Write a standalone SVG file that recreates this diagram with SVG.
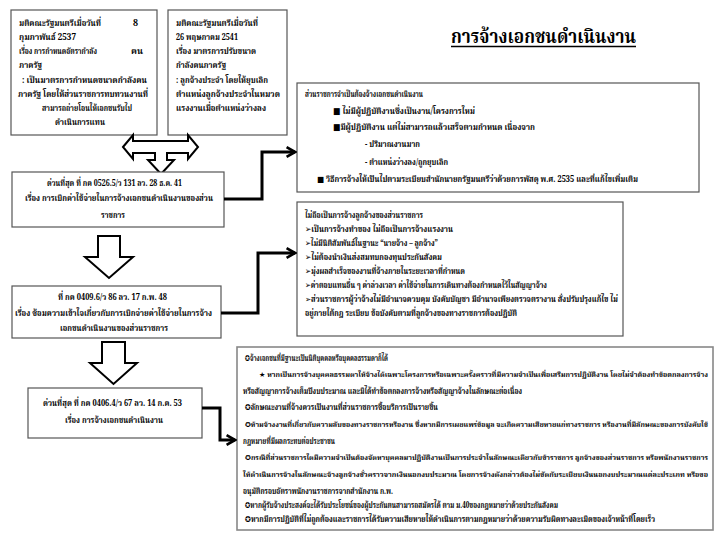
<svg xmlns="http://www.w3.org/2000/svg" width="720" height="540" viewBox="0 0 720 540">
<style>
.t{font-family:"Noto Serif Thai","Noto Sans Thai","Tlwg Typo","Loma","Garuda","DejaVu Sans",serif;font-size:9px;font-weight:bold;fill:#000}
.s{font-size:8px}
.xs{font-size:6.9px}
.box{fill:#fff;stroke:#555;stroke-width:1.2}
.box3{fill:#fff;stroke:#888;stroke-width:1.6}
.blk{fill:#fff;stroke:#000;stroke-width:2;stroke-linejoin:miter}
.con{fill:none;stroke:#000;stroke-width:3;stroke-linejoin:miter}
.title{font-family:"Noto Serif Thai","Noto Sans Thai","Tlwg Typo","Loma","Garuda","DejaVu Sans",serif;font-size:19px;font-weight:bold;fill:#000}
</style>
<defs>
<marker id="arr" viewBox="0 0 10 10" refX="8.5" refY="5" markerWidth="4" markerHeight="4" orient="auto" markerUnits="strokeWidth">
<path d="M1.5,1 L8.5,5 L1.5,9" fill="none" stroke="#000" stroke-width="2.2"/>
</marker>
</defs>
<rect width="720" height="540" fill="#fff"/>

<g id="title">
<text class="title" x="451" y="43" textLength="185" lengthAdjust="spacingAndGlyphs">การจ้างเอกชนดำเนินงาน</text>
<line x1="451" y1="46.5" x2="636" y2="46.5" stroke="#000" stroke-width="1.3"/>
</g>

<g id="boxA">
<rect class="box" x="11" y="10" width="146" height="125"/>
<text class="t" x="19" y="26" textLength="82" lengthAdjust="spacingAndGlyphs">มติคณะรัฐมนตรีเมื่อวันที่</text>
<text class="t" x="133" y="26">8</text>
<text class="t" x="19" y="40" textLength="57" lengthAdjust="spacingAndGlyphs">กุมภาพันธ์ 2537</text>
<text class="t" x="19" y="54" textLength="78" lengthAdjust="spacingAndGlyphs">เรื่อง การกำหนดอัตรากำลัง</text>
<text class="t" x="131" y="54" textLength="12" lengthAdjust="spacingAndGlyphs">คน</text>
<text class="t" x="19" y="68" textLength="23" lengthAdjust="spacingAndGlyphs">ภาครัฐ</text>
<text class="t" x="22" y="83" textLength="125" lengthAdjust="spacingAndGlyphs">: เป็นมาตรการกำหนดขนาดกำลังคน</text>
<text class="t" x="18" y="97" textLength="130" lengthAdjust="spacingAndGlyphs">ภาครัฐ โดยให้ส่วนราชการทบทวนงานที่</text>
<text class="t" x="42" y="111" textLength="90" lengthAdjust="spacingAndGlyphs">สามารถถ่ายโอนให้เอกชนรับไป</text>
<text class="t" x="55" y="125" textLength="50" lengthAdjust="spacingAndGlyphs">ดำเนินการแทน</text>
</g>

<g id="boxB">
<rect class="box" x="168" y="10" width="119" height="125"/>
<text class="t" x="176" y="26" textLength="82" lengthAdjust="spacingAndGlyphs">มติคณะรัฐมนตรีเมื่อวันที่</text>
<text class="t" x="176" y="40" textLength="62" lengthAdjust="spacingAndGlyphs">26 พฤษภาคม 2541</text>
<text class="t" x="176" y="54" textLength="80" lengthAdjust="spacingAndGlyphs">เรื่อง มาตรการปรับขนาด</text>
<text class="t" x="176" y="68" textLength="50" lengthAdjust="spacingAndGlyphs">กำลังคนภาครัฐ</text>
<text class="t" x="176" y="83" textLength="92" lengthAdjust="spacingAndGlyphs">: ลูกจ้างประจำ โดยให้ยุบเลิก</text>
<text class="t" x="176" y="97" textLength="104" lengthAdjust="spacingAndGlyphs">ตำแหน่งลูกจ้างประจำในหมวด</text>
<text class="t" x="176" y="111" textLength="90" lengthAdjust="spacingAndGlyphs">แรงงานเมื่อตำแหน่งว่างลง</text>
</g>

<g id="split-arrow">
<polygon class="blk" points="123,147 133,135 133,141 188,141 188,135 198,147 188,159 188,153 167,153 167,160 174,160 161,174 148,160 155,160 155,153 133,153 133,159"/>
</g>

<g id="boxC">
<rect class="box" x="12" y="172" width="212" height="55"/>
<text class="t" x="47" y="186" textLength="135" lengthAdjust="spacingAndGlyphs">ด่วนที่สุด ที่ กค 0526.5/ว 131 ลว. 28 ธ.ค. 41</text>
<text class="t" x="25" y="201" textLength="188" lengthAdjust="spacingAndGlyphs">เรื่อง  การเบิกค่าใช้จ่ายในการจ้างเอกชนดำเนินงานของส่วน</text>
<text class="t" x="101" y="218" textLength="24" lengthAdjust="spacingAndGlyphs">ราชการ</text>
</g>

<g id="down-arrow-1">
<polygon class="blk" points="98,236 120,236 120,257 133,257 109,278 85,257 98,257"/>
</g>

<g id="boxD">
<rect class="box" x="12" y="286" width="209" height="52"/>
<text class="t" x="58" y="300" textLength="109" lengthAdjust="spacingAndGlyphs">ที่ กค 0409.6/ว 86 ลว. 17 ก.พ. 48</text>
<text class="t" x="15" y="316" textLength="197" lengthAdjust="spacingAndGlyphs">เรื่อง ซ้อมความเข้าใจเกี่ยวกับการเบิกจ่ายค่าใช้จ่ายในการจ้าง</text>
<text class="t" x="60" y="331" textLength="108" lengthAdjust="spacingAndGlyphs">เอกชนดำเนินงานของส่วนราชการ</text>
</g>

<g id="down-arrow-2">
<polygon class="blk" points="102,342 125,342 125,363 137,363 113.5,384 90,363 102,363"/>
</g>

<g id="boxE">
<rect class="box" x="28" y="388" width="174" height="50"/>
<text class="t" x="43" y="406" textLength="139" lengthAdjust="spacingAndGlyphs">ด่วนที่สุด ที่ กค 0406.4/ว 67 ลว. 14 ก.ค. 53</text>
<text class="t" x="65" y="423" textLength="98" lengthAdjust="spacingAndGlyphs">เรื่อง การจ้างเอกชนดำเนินงาน</text>
</g>

<g id="box1">
<rect class="box" x="297" y="83" width="402" height="109"/>
<text class="t" x="305" y="97" textLength="118" lengthAdjust="spacingAndGlyphs">ส่วนราชการจำเป็นต้องจ้างเอกชนดำเนินงาน</text>
<text class="t" x="333" y="114" textLength="142" lengthAdjust="spacingAndGlyphs">■ ไม่มีผู้ปฏิบัติงานซึ่งเป็นงาน/โครงการใหม่</text>
<text class="t" x="333" y="130" textLength="202" lengthAdjust="spacingAndGlyphs">■มีผู้ปฏิบัติงาน แต่ไม่สามารถแล้วเสร็จตามกำหนด เนื่องจาก</text>
<text class="t" x="365" y="147" textLength="55" lengthAdjust="spacingAndGlyphs">- ปริมาณงานมาก</text>
<text class="t" x="365" y="165" textLength="83" lengthAdjust="spacingAndGlyphs">- ตำแหน่งว่างลง/ถูกยุบเลิก</text>
<text class="t s" x="317" y="182" textLength="321" lengthAdjust="spacingAndGlyphs">■ วิธีการจ้างให้เป็นไปตามระเบียบสำนักนายกรัฐมนตรีว่าด้วยการพัสดุ พ.ศ. 2535 และที่แก้ไขเพิ่มเติม</text>
</g>

<g id="box2">
<rect class="box" x="297" y="202" width="326" height="134"/>
<text class="t" x="305" y="218" textLength="118" lengthAdjust="spacingAndGlyphs">ไม่ถือเป็นการจ้างลูกจ้างของส่วนราชการ</text>
<text class="t" x="305" y="232" textLength="148" lengthAdjust="spacingAndGlyphs">➢เป็นการจ้างทำของ ไม่ถือเป็นการจ้างแรงงาน</text>
<text class="t" x="305" y="246" textLength="133" lengthAdjust="spacingAndGlyphs">➢ไม่มีนิติสัมพันธ์ในฐานะ “นายจ้าง – ลูกจ้าง”</text>
<text class="t" x="305" y="260" textLength="137" lengthAdjust="spacingAndGlyphs">➢ไม่ต้องนำเงินส่งสมทบกองทุนประกันสังคม</text>
<text class="t" x="305" y="274" textLength="160" lengthAdjust="spacingAndGlyphs">➢มุ่งผลสำเร็จของงานที่จ้างภายในระยะเวลาที่กำหนด</text>
<text class="t" x="305" y="288" textLength="242" lengthAdjust="spacingAndGlyphs">➢ค่าตอบแทนอื่น ๆ ค่าล่วงเวลา ค่าใช้จ่ายในการเดินทางต้องกำหนดไว้ในสัญญาจ้าง</text>
<text class="t s" x="305" y="302" textLength="313" lengthAdjust="spacingAndGlyphs">➢ส่วนราชการผู้ว่าจ้างไม่มีอำนาจควบคุม บังคับบัญชา มีอำนาจเพียงตรวจตรางาน สั่งปรับปรุงแก้ไข  ไม่</text>
<text class="t" x="305" y="316" textLength="212" lengthAdjust="spacingAndGlyphs">อยู่ภายใต้กฎ ระเบียบ ข้อบังคับตามที่ลูกจ้างของทางราชการต้องปฏิบัติ</text>
</g>

<g id="box3">
<rect class="box3" x="237" y="347" width="476" height="183"/>
<text class="t s" x="245" y="361" textLength="143" lengthAdjust="spacingAndGlyphs">✪จ้างเอกชนที่มีฐานะเป็นนิติบุคคลหรือบุคคลธรรมดาก็ได้</text>
<text class="t xs" x="259" y="377" textLength="449" lengthAdjust="spacingAndGlyphs">★ หากเป็นการจ้างบุคคลธรรมดาให้จ้างได้เฉพาะโครงการหรือเฉพาะครั้งคราวที่มีความจำเป็นเพื่อเสริมการปฏิบัติงาน โดยไม่จำต้องทำข้อตกลงการจ้าง</text>
<text class="t s" x="243" y="394" textLength="279" lengthAdjust="spacingAndGlyphs">หรือสัญญาการจ้างเต็มปีงบประมาณ และมิได้ทำข้อตกลงการจ้างหรือสัญญาจ้างในลักษณะต่อเนื่อง</text>
<text class="t s" x="245" y="410" textLength="193" lengthAdjust="spacingAndGlyphs">✪ลักษณะงานที่จ้างควรเป็นงานที่ส่วนราชการซื้อบริการเป็นรายชิ้น</text>
<text class="t xs" x="245" y="427" textLength="463" lengthAdjust="spacingAndGlyphs">✪ห้ามจ้างงานที่เกี่ยวกับความลับของทางราชการหรืองาน ซึ่งหากมีการเผยแพร่ข้อมูล จะเกิดความเสียหายแก่ทางราชการ หรืองานที่มีลักษณะของการบังคับใช้</text>
<text class="t s" x="243" y="444" textLength="92" lengthAdjust="spacingAndGlyphs">กฎหมายที่มีผลกระทบต่อประชาชน</text>
<text class="t xs" x="245" y="460" textLength="463" lengthAdjust="spacingAndGlyphs">✪กรณีที่ส่วนราชการใดมีความจำเป็นต้องจัดหาบุคคลมาปฏิบัติงานเป็นการประจำในลักษณะเดียวกับข้าราชการ ลูกจ้างของส่วนราชการ หรือพนักงานราชการ</text>
<text class="t xs" x="243" y="477" textLength="465" lengthAdjust="spacingAndGlyphs">ให้ดำเนินการจ้างในลักษณะจ้างลูกจ้างชั่วคราวจากเงินนอกงบประมาณ โดยการจ้างดังกล่าวต้องไม่ขัดกับระเบียบเงินนอกงบประมาณแต่ละประเภท หรือขอ</text>
<text class="t s" x="243" y="494" textLength="150" lengthAdjust="spacingAndGlyphs">อนุมัติกรอบอัตราพนักงานราชการจากสำนักงาน ก.พ.</text>
<text class="t s" x="245" y="508" textLength="313" lengthAdjust="spacingAndGlyphs">✪หากผู้รับจ้างประสงค์จะได้รับประโยชน์ของผู้ประกันตนสามารถสมัครได้ ตาม ม.40ของกฎหมายว่าด้วยประกันสังคม</text>
<text class="t s" x="245" y="522" textLength="410" lengthAdjust="spacingAndGlyphs">✪หากมีการปฏิบัติที่ไม่ถูกต้องและราชการได้รับความเสียหายให้ดำเนินการตามกฎหมายว่าด้วยความรับผิดทางละเมิดของเจ้าหน้าที่โดยเร็ว</text>
</g>

<g id="connectors">
<polyline class="con" points="224,199 262,199 262,152 295,152" marker-end="url(#arr)"/>
<polyline class="con" points="221,313 258,313 258,253 295,253" marker-end="url(#arr)"/>
<polyline class="con" points="202,408 220,408 220,440 235,440" marker-end="url(#arr)"/>
</g>
</svg>
